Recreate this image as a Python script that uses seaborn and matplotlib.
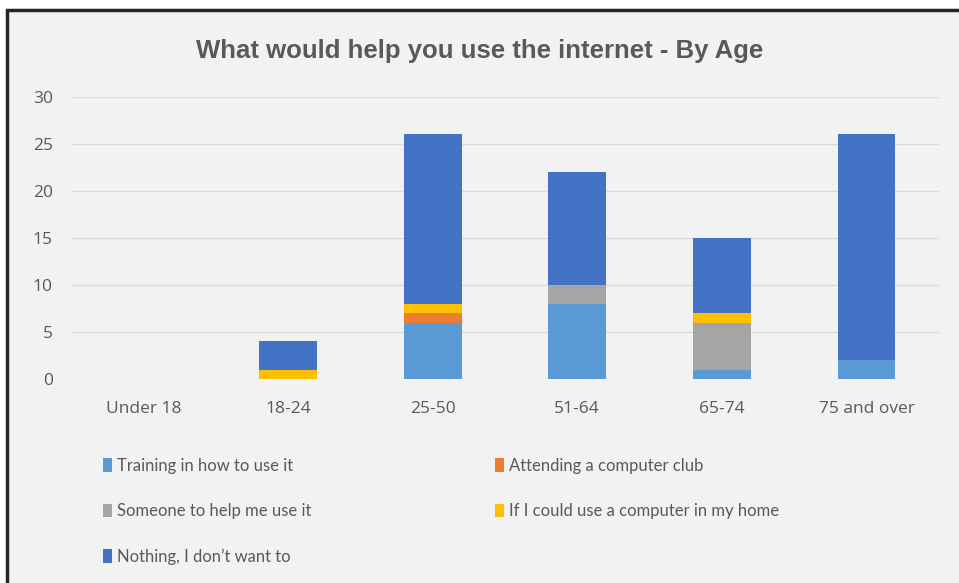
import numpy as np
import pandas as pd
import seaborn as sns
import matplotlib.pyplot as plt
from matplotlib.patches import Rectangle, Patch

# data
ages = ["Under 18", "18-24", "25-50", "51-64", "65-74", "75 and over"]
series = ["Training in how to use it", "Attending a computer club",
          "Someone to help me use it", "If I could use a computer in my home",
          "Nothing, I don\u2019t want to"]
training = [0, 0, 6, 8, 1, 2]
club = [0, 0, 1, 0, 0, 0]
someone = [0, 0, 0, 2, 5, 0]
home = [0, 1, 1, 0, 1, 0]
nothing = [0, 3, 18, 12, 8, 24]
colors = ["#5B9BD5", "#ED7D31", "#A5A5A5", "#FFC000", "#4472C4"]

sns.set_theme(style="white")
plt.rcParams["font.family"] = ["Lato", "DejaVu Sans"]

fig = plt.figure(figsize=(9.59, 5.83), dpi=100)
fig.patch.set_facecolor("white")
# chart frame (cropped screenshot of an Excel chart)
fig.add_artist(Rectangle((7 / 959, -0.05), 1.05, 1 - 10 / 583 + 0.05,
                         transform=fig.transFigure, facecolor="#F2F2F2",
                         edgecolor="#262626", linewidth=2.5, zorder=0))

ax = fig.add_axes([0.074, 0.350, 0.905, 0.484])
ax.set_facecolor("#F2F2F2")

df = pd.DataFrame({"age": ages, "s0": training, "s1": club, "s2": someone,
                   "s3": home, "s4": nothing})
cols = ["s0", "s1", "s2", "s3", "s4"]
cum = df[cols].cumsum(axis=1)

# draw cumulative totals from top to bottom so each segment overlays the next
for i in range(len(cols) - 1, -1, -1):
    sns.barplot(x=df["age"], y=cum[cols[i]], color=colors[i], width=0.4,
                saturation=1, linewidth=0, ax=ax, zorder=3, order=ages)

ax.set_ylim(0, 30)
ax.set_yticks(range(0, 31, 5))
ax.set_xlim(-0.5, 5.5)
ax.yaxis.grid(True, color="#D9D9D9", linewidth=1)
ax.set_axisbelow(True)
for s in ax.spines.values():
    s.set_visible(False)
ax.set_xlabel("")
ax.set_ylabel("")
ax.tick_params(axis="both", length=0, labelsize=12.5, colors="#595959")
for lab in ax.get_xticklabels() + ax.get_yticklabels():
    lab.set_family(["Open Sans", "DejaVu Sans"])
ax.tick_params(axis="x", pad=16)
ax.tick_params(axis="y", pad=13)

fig.text(0.5, 0.913, "What would help you use the internet - By Age",
         ha="center", va="center", fontsize=18.5, fontweight="bold",
         color="#595959", family=["Liberation Sans", "DejaVu Sans"])

handles = [Patch(facecolor=c, edgecolor="none") for c in colors]
order = [0, 2, 4, 1, 3]
leg = fig.legend([handles[i] for i in order], [series[i] for i in order],
                 ncol=2, loc="upper left", bbox_to_anchor=(0.092, 0.24),
                 frameon=False, fontsize=12, labelcolor="#595959",
                 handlelength=0.55, handleheight=0.9, handletextpad=0.3,
                 columnspacing=11.0, labelspacing=1.75)

fig.savefig("out.png", dpi=100, facecolor=fig.get_facecolor())
